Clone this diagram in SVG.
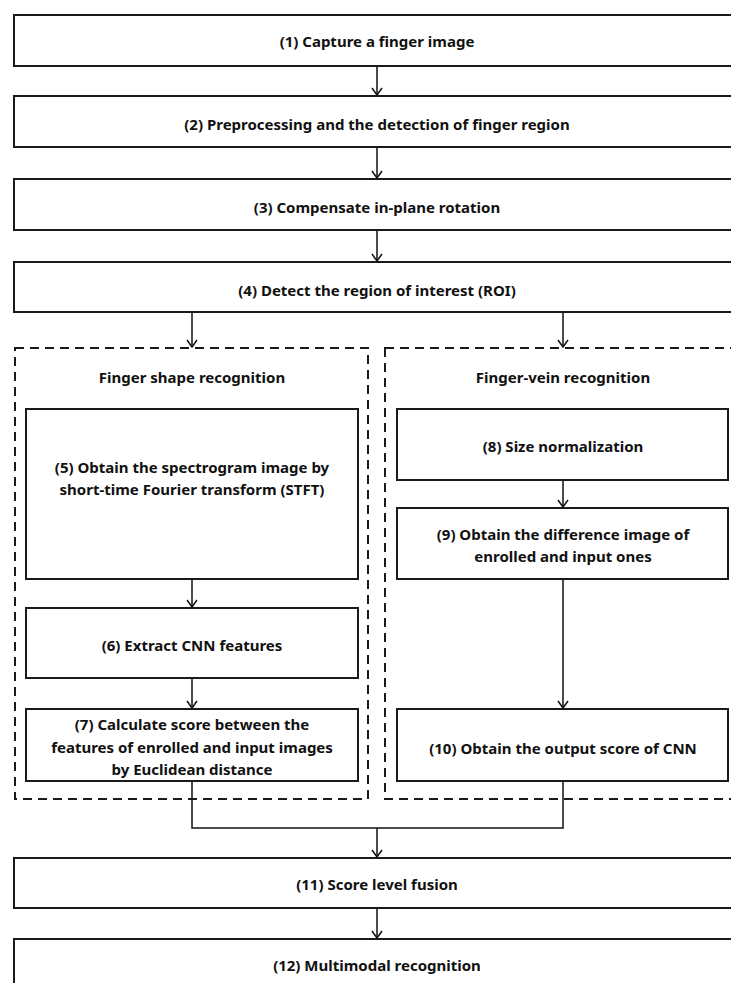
<svg xmlns="http://www.w3.org/2000/svg" width="731" height="983" viewBox="0 0 731 983">
<defs>
<marker id="arr" viewBox="0 0 12 12" refX="11" refY="6" markerWidth="12" markerHeight="12" markerUnits="userSpaceOnUse" orient="auto">
<path d="M4,1 L11,6 L4,11" fill="none" stroke="#111" stroke-width="1.5"/>
</marker>
<style>
.box{fill:#fff;stroke:#1a1a1a;stroke-width:2}
.dash{fill:none;stroke:#1a1a1a;stroke-width:2;stroke-dasharray:9,6}
.t{font-family:"Noto Sans","Noto Sans CJK KR",sans-serif;font-weight:bold;font-size:15px;fill:#111;text-anchor:middle;dominant-baseline:central}
.c{fill:none;stroke:#111;stroke-width:1.5}
.a{fill:none;stroke:#111;stroke-width:1.5;marker-end:url(#arr)}
</style>
</defs>
<rect width="731" height="983" fill="#fff"/>
<g id="groups">
<rect class="dash" x="15" y="348" width="353" height="451"/>
<rect class="dash" x="385" y="348" width="356" height="451"/>
<text class="t" x="192" y="377">Finger shape recognition</text>
<text class="t" x="563" y="377">Finger-vein recognition</text>
</g>
<g id="n1"><rect class="box" x="14" y="15" width="730" height="51"/><text class="t" x="377" y="41">(1) Capture a finger image</text></g>
<g id="n2"><rect class="box" x="14" y="96" width="730" height="51"/><text class="t" x="377" y="124">(2) Preprocessing and the detection of finger region</text></g>
<g id="n3"><rect class="box" x="14" y="179" width="730" height="51"/><text class="t" x="377" y="207">(3) Compensate in-plane rotation</text></g>
<g id="n4"><rect class="box" x="14" y="262" width="730" height="50"/><text class="t" x="377" y="290">(4) Detect the region of interest (ROI)</text></g>
<g id="n5"><rect class="box" x="26" y="409" width="332" height="170"/><text class="t" x="192" y="467">(5) Obtain the spectrogram image by</text><text class="t" x="192" y="489">short-time Fourier transform (STFT)</text></g>
<g id="n6"><rect class="box" x="26" y="608" width="332" height="70"/><text class="t" x="192" y="645">(6) Extract CNN features</text></g>
<g id="n7"><rect class="box" x="26" y="709" width="332" height="72"/><text class="t" x="192" y="724">(7) Calculate score between the</text><text class="t" x="192" y="747">features of enrolled and input images</text><text class="t" x="192" y="769">by Euclidean distance</text></g>
<g id="n8"><rect class="box" x="397" y="409" width="331" height="71"/><text class="t" x="563" y="446">(8) Size normalization</text></g>
<g id="n9"><rect class="box" x="397" y="508" width="331" height="71"/><text class="t" x="563" y="534">(9) Obtain the difference image of</text><text class="t" x="563" y="556">enrolled and input ones</text></g>
<g id="n10"><rect class="box" x="397" y="709" width="331" height="72"/><text class="t" x="563" y="748">(10) Obtain the output score of CNN</text></g>
<g id="n11"><rect class="box" x="14" y="858" width="730" height="50"/><text class="t" x="377" y="884">(11) Score level fusion</text></g>
<g id="n12"><rect class="box" x="14" y="939" width="730" height="60"/><text class="t" x="377" y="965">(12) Multimodal recognition</text></g>
<g id="connectors">
<line class="a" x1="377" y1="67" x2="377" y2="95"/>
<line class="a" x1="377" y1="148" x2="377" y2="178"/>
<line class="a" x1="377" y1="231" x2="377" y2="261"/>
<line class="a" x1="192" y1="313" x2="192" y2="347"/>
<line class="a" x1="563" y1="313" x2="563" y2="347"/>
<line class="a" x1="192" y1="580" x2="192" y2="607"/>
<line class="a" x1="192" y1="679" x2="192" y2="708"/>
<line class="a" x1="563" y1="481" x2="563" y2="507"/>
<line class="a" x1="563" y1="580" x2="563" y2="708"/>
<polyline class="c" points="192,782 192,828 563,828 563,782"/>
<line class="a" x1="377" y1="828" x2="377" y2="857"/>
<line class="a" x1="377" y1="909" x2="377" y2="938"/>
</g>
</svg>
